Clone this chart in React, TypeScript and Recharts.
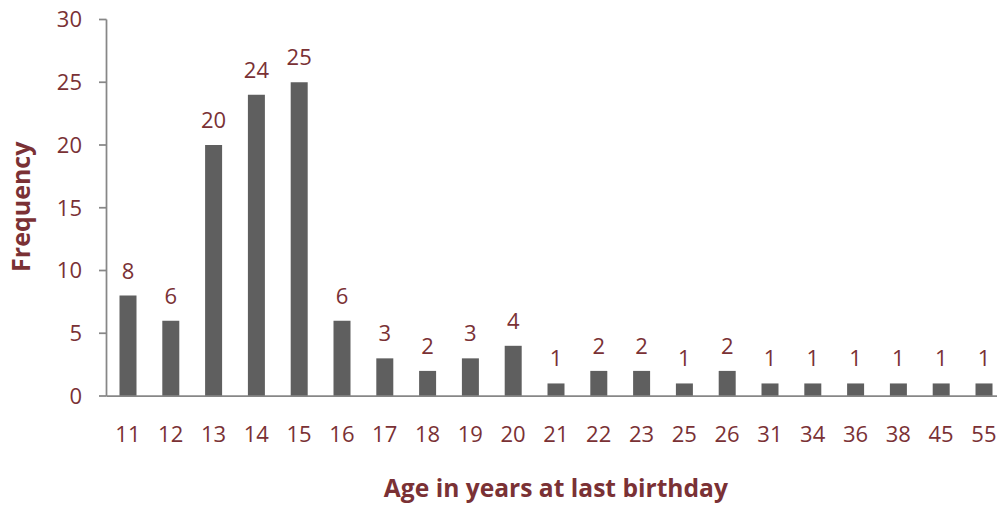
import React from 'react';
import { BarChart, Bar, XAxis, YAxis, LabelList, Label } from 'recharts';

const ages = ['11', '12', '13', '14', '15', '16', '17', '18', '19', '20', '21', '22', '23', '25', '26', '31', '34', '36', '38', '45', '55'];
const frequencies = [8, 6, 20, 24, 25, 6, 3, 2, 3, 4, 1, 2, 2, 1, 2, 1, 1, 1, 1, 1, 1];
const yTicks = [0, 5, 10, 15, 20, 25, 30];

const data = ages.map((age, i) => ({ age, freq: frequencies[i] }));

const TEXT = '#7A3135';
const AXIS = '#878787';
const BAR = '#5f5f5f';
const FONT = '"Open Sans", sans-serif';

const YLabel = (props: any) => {
  const vb = props.viewBox || {};
  const cy = vb.y + vb.height / 2 - 1;
  const x = 30;
  return (
    <text
      x={x}
      y={cy}
      transform={`rotate(-90 ${x} ${cy})`}
      textAnchor="middle"
      fill={TEXT}
      fontFamily={FONT}
      fontWeight={700}
      fontSize={25}
    >
      Frequency
    </text>
  );
};

export default function App() {
  return (
    <div style={{ position: 'absolute', left: 0, top: 0, width: 997, height: 506, overflow: 'hidden', background: '#fff' }}>
      <BarChart
        width={1010}
        height={506}
        data={data}
        margin={{ top: 19.5, right: 4.7, left: 0, bottom: 0 }}
        barCategoryGap={0}
      >
        <YAxis
          domain={[0, 30]}
          ticks={yTicks}
          width={106.5}
          interval={0}
          tickSize={7.5}
          tickMargin={17}
          axisLine={{ stroke: AXIS, strokeWidth: 1.75 }}
          tickLine={{ stroke: AXIS, strokeWidth: 1.75 }}
          tick={{ fill: TEXT, fontSize: 22, fontFamily: FONT }}
        >
          <Label content={<YLabel />} />
        </YAxis>
        <XAxis
          dataKey="age"
          height={110}
          interval={0}
          tickLine={false}
          tickSize={0}
          tickMargin={30}
          axisLine={{ stroke: AXIS, strokeWidth: 1.75 }}
          tick={{ fill: TEXT, fontSize: 22, fontFamily: FONT }}
        >
          <Label
            value="Age in years at last birthday"
            position="insideBottom"
            offset={9}
            fill={TEXT}
            fontFamily={FONT}
            fontWeight={700}
            fontSize={24.6}
          />
        </XAxis>
        <Bar dataKey="freq" fill={BAR} barSize={17} isAnimationActive={false}>
          <LabelList
            dataKey="freq"
            position="top"
            offset={17}
            fill={TEXT}
            fontFamily={FONT}
            fontSize={22}
          />
        </Bar>
      </BarChart>
    </div>
  );
}
